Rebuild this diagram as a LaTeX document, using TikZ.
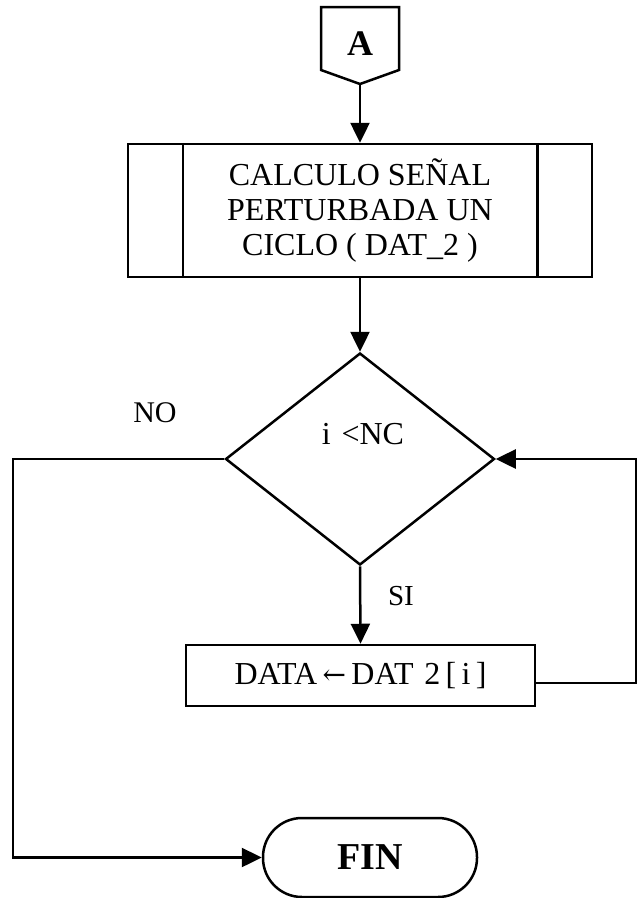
\documentclass[tikz,border=0pt]{standalone}
\usepackage{fontspec}
\setmainfont{Liberation Serif}
\newfontfamily\arrowfont{DejaVu Serif}
\usetikzlibrary{shapes.geometric,arrows.meta}
\begin{document}
\begin{tikzpicture}[x=1pt,y=-1pt,
  every node/.style={font=\fontsize{32}{35}\selectfont},
  line/.style={line width=2.5pt},
  arr/.style={line width=2.5pt,-{Triangle[length=20pt,width=19pt]}},
  procbox/.style={draw,line width=2.5pt,rectangle,inner sep=0pt,align=center},
  decis/.style={draw,line width=2.5pt,diamond,inner sep=0pt},
  term/.style={draw,line width=2.5pt,rectangle,rounded corners=39pt,inner sep=0pt}]
\useasboundingbox (0,0) rectangle (644,898);
% off-page connector A
\draw[line] (321,7) -- (399,7) -- (399,70) -- (360,84) -- (321,70) -- cycle;
\node[font=\fontsize{36}{40}\selectfont\bfseries] (A) at (360,44) {A};
\coordinate (Atip) at (360,84);
% predefined process
\node[procbox,minimum width=464pt,minimum height=133pt] (calc) at (360,210.5)
  {CALCULO SEÑAL\\PERTURBADA UN\\CICLO ( DAT\_2 )};
\draw[line] ([xshift=56pt]calc.north west) -- ([xshift=56pt]calc.south west);
\draw[line] ([xshift=-56pt]calc.north east) -- ([xshift=-56pt]calc.south east);
% decision
\node[decis,minimum width=269pt,minimum height=212pt] (dec) at (360,459) {};
\node (cond) at (363,434) {i\,\,<NC};
% assignment
\node[procbox,minimum width=349pt,minimum height=61pt] (data) at (360.5,675.5)
  {DATA\,{\arrowfont\fontsize{28}{30}\selectfont ←}\,DAT\,\,2\,[\,i\,]};
% terminal
\node[term,minimum width=214pt,minimum height=79pt,font=\fontsize{38}{40}\selectfont\bfseries] (fin) at (370,857.5) {FIN};
% labels
\node[font=\fontsize{30}{32}\selectfont] (no) at (155,413) {NO};
\node[font=\fontsize{29}{32}\selectfont] (si) at (401,596) {SI};
% connectors
\draw[arr] (Atip) -- (calc.north);
\draw[arr] (calc.south) -- (dec.north);
\draw[arr] (dec.south) -- (data.north);
\coordinate (lc) at (13,459);
\draw[arr] (dec.west) -- (lc) |- (fin.west);
\coordinate (rc) at (636,683);
\draw[arr] (data.east |- rc) -- (rc) |- (dec.east);
\end{tikzpicture}
\end{document}
